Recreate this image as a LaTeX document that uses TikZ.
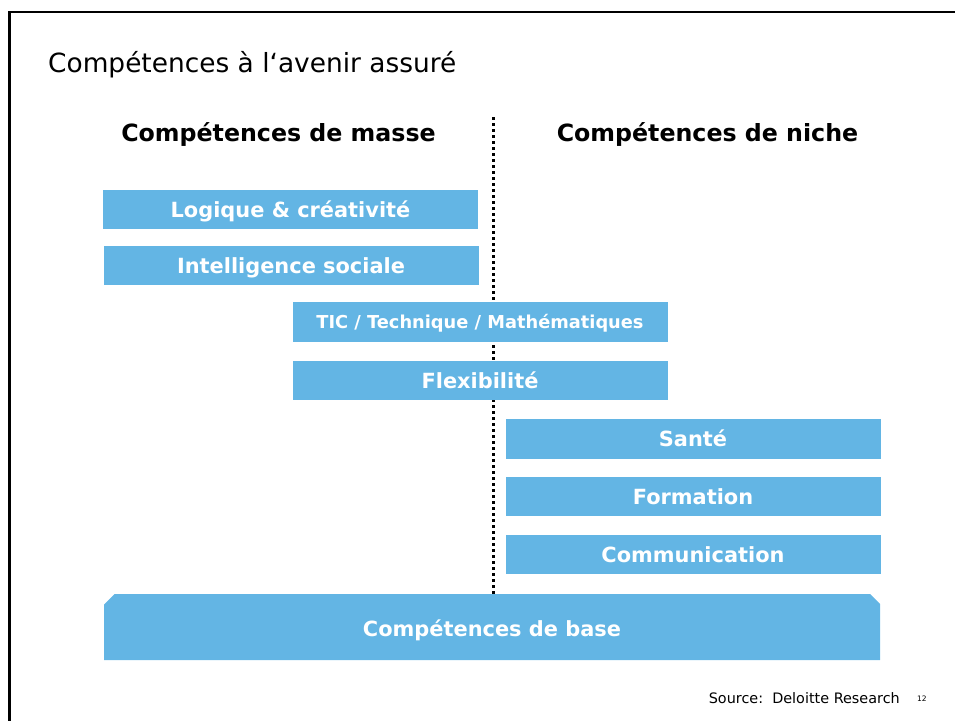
\documentclass[tikz,border=0pt]{standalone}
\usepackage{fontspec}
\setmainfont{DejaVu Sans}
\definecolor{boxblue}{RGB}{99,181,228}
\tikzset{
  skillbox/.style={fill=boxblue, draw=none, inner sep=0pt, minimum width=375pt, minimum height=39.5pt, text=white, font=\fontsize{20.9}{24}\selectfont\bfseries, text height=15.2pt, text depth=0pt},
  header/.style={font=\fontsize{23.7}{28}\selectfont\bfseries, inner sep=0pt, anchor=base},
  frameline/.style={line width=2.8pt, black},
  divider/.style={line width=3pt, dash pattern=on 3pt off 3pt, black}
}
\begin{document}
\begin{tikzpicture}[x=1pt,y=-1pt]
\useasboundingbox (0,0) rectangle (955,720);
% frame
\coordinate (fbl) at (9.5,725);
\coordinate (ftl) at (9.5,12);
\coordinate (ftr) at (960,12);
\draw[frameline] (fbl) -- (ftl) -- (ftr);
% title
\node[anchor=base west, inner sep=0pt, font=\fontsize{26.4}{31}\selectfont] (title) at (48,72) {Compétences à l‘avenir assuré};
% headers
\node[header] (hmasse) at (278.5,141) {Compétences de masse};
\node[header] (hniche) at (707.5,141) {Compétences de niche};
% divider
\coordinate (dtop) at (493,117);
\coordinate (dbot) at (493,594);
\draw[divider] (dtop) -- (dbot);
% boxes
\node[skillbox] (logique) at (290.5,209.5) {Logique \& créativité};
\node[skillbox] (intel) at (291,265.5) {Intelligence sociale};
\node[skillbox, font=\fontsize{17.8}{21}\selectfont\bfseries, text height=13pt] (tic) at (480,322) {TIC / Technique / Mathématiques};
\node[skillbox] (flex) at (480,380.5) {Flexibilité};
\node[skillbox] (sante) at (693,439) {Santé};
\node[skillbox] (formation) at (693,496.5) {Formation};
\node[skillbox] (comm) at (693,554.5) {Communication};
% base
\fill[boxblue] (104,660) -- (104,604.5) -- (114.5,594) -- (870,594) -- (880,604) -- (880,660) -- cycle;
\node[inner sep=0pt, text=white, font=\fontsize{20.9}{24}\selectfont\bfseries, text height=15.2pt, text depth=0pt] (base) at (492,628.5) {Compétences de base};
% footer
\node[anchor=base east, inner sep=0pt, font=\fontsize{14.4}{17}\selectfont] (source) at (900,703) {Source:\ \ Deloitte Research};
\node[anchor=base west, inner sep=0pt, font=\fontsize{7.5}{9}\selectfont] (page) at (917,701) {12};
\end{tikzpicture}
\end{document}
